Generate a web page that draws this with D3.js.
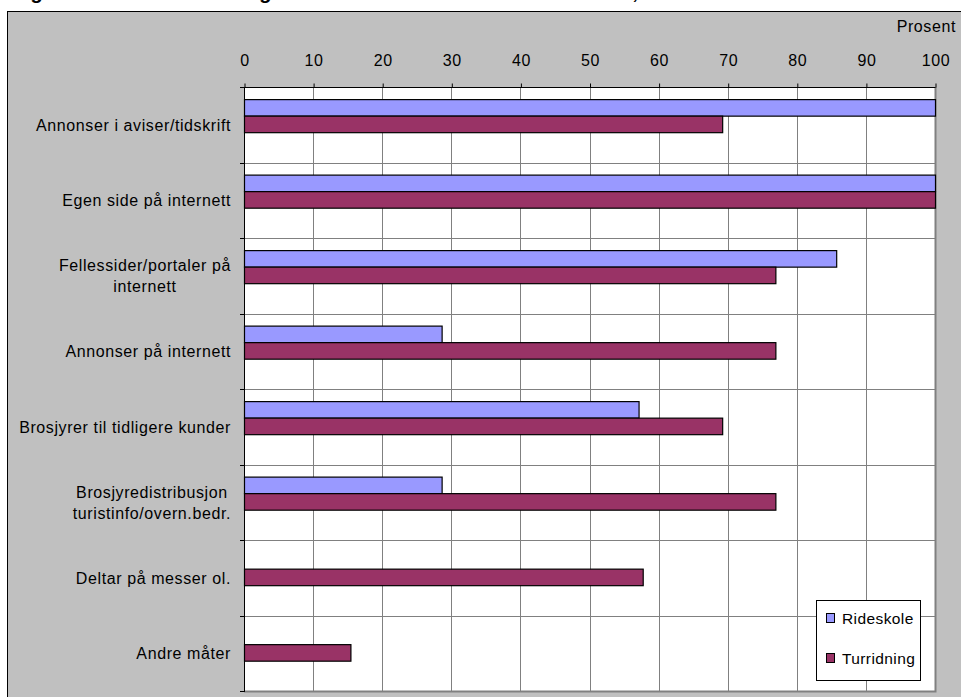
<!DOCTYPE html>
<html>
<head>
<meta charset="utf-8">
<script src="https://cdn.jsdelivr.net/npm/d3@7/dist/d3.min.js"></script>
<style>
  html, body { margin: 0; padding: 0; background: #ffffff; }
  svg { display: block; }
  text { font-family: "Liberation Sans", Arial, sans-serif; fill: #000; }
</style>
</head>
<body>
<svg id="chart" width="961" height="697"></svg>
<script>
// Marketing channels used, share of firms (percent)
const categories = [
  "Annonser i aviser/tidskrift",
  "Egen side på internett",
  "Fellessider/portaler på\ninternett",
  "Annonser på internett",
  "Brosjyrer til tidligere kunder",
  "Brosjyredistribusjon\nturistinfo/overn.bedr.",
  "Deltar på messer ol.",
  "Andre måter"
];
const rideskole  = [100, 100, 85.7, 28.6, 57.1, 28.6, 0, 0];
const turridning = [69.2, 100, 76.9, 76.9, 69.2, 76.9, 57.7, 15.4];
const seriesNames = ["Rideskole", "Turridning"];
const seriesColors = ["#9999FF", "#993366"];
const xTicks = [0, 10, 20, 30, 40, 50, 60, 70, 80, 90, 100];
const unitLabel = "Prosent";
const titleParts = ["Figur 4.12 Markedsføring", " hos de ulike bedriftene i landet, etter virksomhet"];

const svg = d3.select("#chart");

// Title sits above the chart frame, partly outside the page
const title = svg.append("text")
  .attr("x", 12).attr("y", -1.5)
  .style("font-size", "20px").style("font-weight", "bold").style("font-style", "italic")
  .style("letter-spacing", "1px");
title.append("tspan").text(titleParts[0]);
title.append("tspan").attr("dx", 28).text(titleParts[1]);

// Chart frame
svg.append("rect")
  .attr("x", 7.5).attr("y", 11.5).attr("width", 1000).attr("height", 800)
  .attr("fill", "#C0C0C0").attr("stroke", "#000").attr("stroke-width", 1);

const plot = { left: 244, right: 935, top: 87, bottom: 691 };

const x = d3.scaleLinear().domain([0, 100]).range([plot.left, plot.right]);
const y = d3.scaleBand().domain(categories).range([plot.top, plot.bottom]).paddingInner(0).paddingOuter(0);
const bw = y.bandwidth();

// Plot area
svg.append("rect")
  .attr("x", plot.left).attr("y", plot.top)
  .attr("width", plot.right - plot.left).attr("height", plot.bottom - plot.top)
  .attr("fill", "#ffffff");

// Vertical gridlines
svg.append("g").selectAll("line").data(xTicks.slice(1)).join("line")
  .attr("x1", d => Math.round(x(d)) + 0.5).attr("x2", d => Math.round(x(d)) + 0.5)
  .attr("y1", plot.top).attr("y2", plot.bottom)
  .attr("stroke", "#808080").attr("stroke-width", 1);

// Horizontal gridlines at category boundaries
const bounds = categories.map(c => y(c)).concat([plot.bottom]);
svg.append("g").selectAll("line").data(bounds.slice(1, -1)).join("line")
  .attr("x1", plot.left).attr("x2", plot.right)
  .attr("y1", d => Math.round(d) + 0.5).attr("y2", d => Math.round(d) + 0.5)
  .attr("stroke", "#808080").attr("stroke-width", 1);

// Plot border (right and bottom)
svg.append("path")
  .attr("d", `M${plot.right + 0.5},${plot.top} V${plot.bottom + 0.5} H${plot.left}`)
  .attr("fill", "none").attr("stroke", "#808080").attr("stroke-width", 2);

// Bars
const seriesData = [rideskole, turridning];
const barOffset = [0.167, 0.386];
const barH = 0.219 * bw;
seriesData.forEach((vals, si) => {
  svg.append("g").selectAll("rect")
    .data(categories.map((c, i) => ({ c, v: vals[i] })).filter(d => d.v > 0))
    .join("rect")
    .attr("x", x(0) + 0.5)
    .attr("y", d => y(d.c) + barOffset[si] * bw)
    .attr("width", d => x(d.v) - x(0))
    .attr("height", barH)
    .attr("fill", seriesColors[si])
    .attr("stroke", "#000").attr("stroke-width", 1.2);
});

// Top value axis
const xAxis = d3.axisTop(x).tickValues(xTicks).tickSize(4).tickPadding(18).tickFormat(d3.format("d"));
const gx = svg.append("g").attr("transform", `translate(0.5,${plot.top + 0.5})`).call(xAxis);
gx.select(".domain").attr("stroke", "#000").attr("d", `M${plot.left},0H${plot.right}`);
gx.selectAll(".tick line").attr("stroke", "#000");
gx.selectAll(".tick text")
  .style("font-size", "16px").style("letter-spacing", "0.6px")
  .attr("font-family", null).attr("fill", "#000");

// Left category axis line and boundary ticks
svg.append("line")
  .attr("x1", plot.left + 0.5).attr("x2", plot.left + 0.5)
  .attr("y1", plot.top).attr("y2", plot.bottom + 1)
  .attr("stroke", "#000");
svg.append("g").selectAll("line").data(bounds).join("line")
  .attr("x1", plot.left - 4).attr("x2", plot.left)
  .attr("y1", d => Math.round(d) + 0.5).attr("y2", d => Math.round(d) + 0.5)
  .attr("stroke", "#000");

// Category labels: multi-line blocks are centred, block right-aligned
const labelRight = 231;
const lineGap = 21;
categories.forEach(c => {
  const lines = c.split("\n");
  const cy = y(c) + bw / 2;
  const t = svg.append("text")
    .style("font-size", "16px").style("letter-spacing", "0.6px")
    .attr("dominant-baseline", "central");
  const spans = lines.map((ln, i) => t.append("tspan").text(ln)
    .attr("y", cy + (i - (lines.length - 1) / 2) * lineGap));
  const widths = spans.map(s => s.node().getComputedTextLength());
  const maxW = d3.max(widths);
  if (lines.length === 1) {
    t.attr("text-anchor", "end");
    spans[0].attr("x", labelRight);
  } else {
    t.attr("text-anchor", "middle");
    spans.forEach(s => s.attr("x", labelRight - maxW / 2));
  }
});

// Unit label
svg.append("text")
  .attr("x", 956).attr("y", 32).attr("text-anchor", "end")
  .style("font-size", "16px").style("letter-spacing", "0.6px")
  .text(unitLabel);

// Legend
const lg = svg.append("g");
lg.append("rect")
  .attr("x", 816.5).attr("y", 600.5).attr("width", 104).attr("height", 80)
  .attr("fill", "#fff").attr("stroke", "#000");
seriesNames.forEach((name, i) => {
  const cy = 618 + i * 40;
  lg.append("rect")
    .attr("x", 826.5).attr("y", cy - 4.5).attr("width", 8).attr("height", 9)
    .attr("fill", seriesColors[i]).attr("stroke", "#000");
  lg.append("text")
    .attr("x", 842).attr("y", cy).attr("dominant-baseline", "central")
    .style("font-size", "15.5px").style("letter-spacing", "0.4px")
    .text(name);
});
</script>
</body>
</html>
